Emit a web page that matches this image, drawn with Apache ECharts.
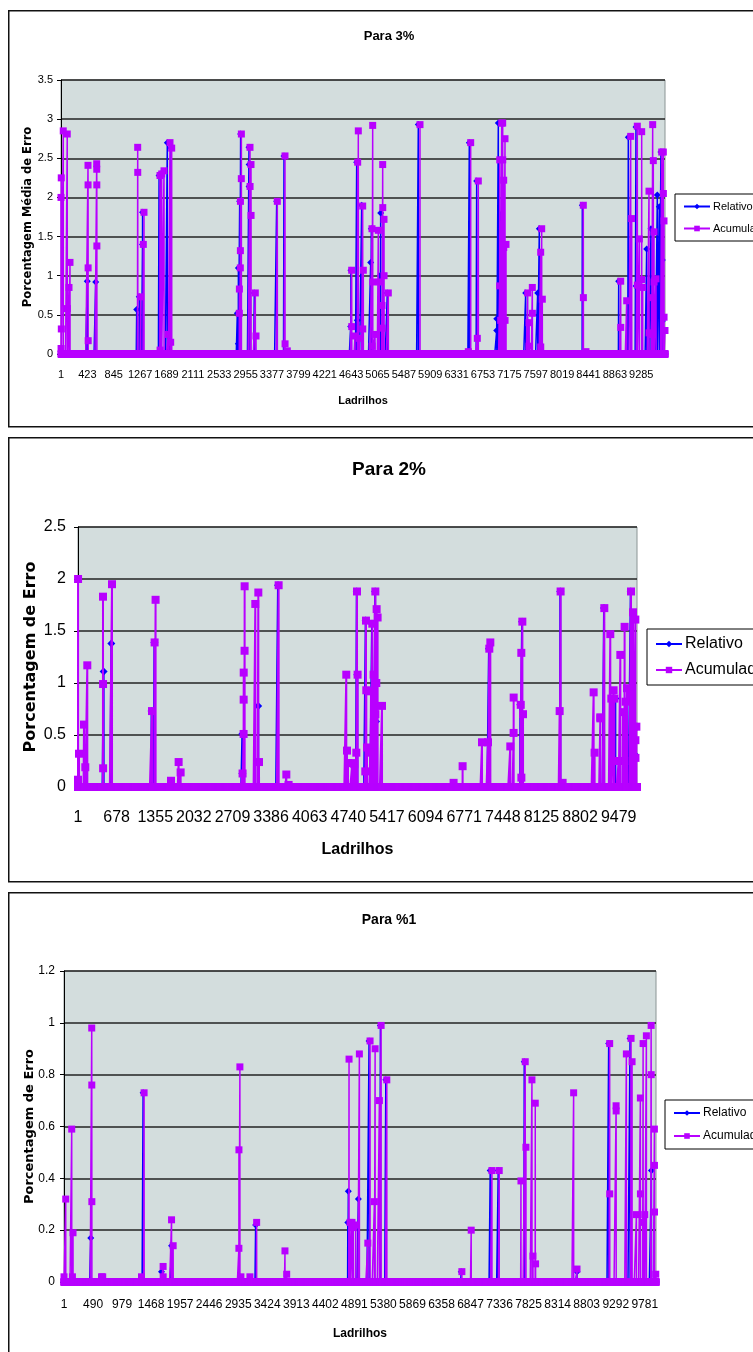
<!DOCTYPE html>
<html>
<head>
<meta charset="utf-8">
<script src="https://cdn.jsdelivr.net/npm/echarts@6/dist/echarts.min.js"></script>
<style>
html,body{margin:0;padding:0;overflow:hidden;background:#fff;}
#c{width:753px;height:1352px;}
</style>
</head>
<body>
<div id="c"></div>
<script>
// ---------- data ----------
const titles = ['Para 3%', 'Para 2%', 'Para %1'];
const yTitles = ['Porcentagem Média de Erro', 'Porcentagem de Erro', 'Porcentagem de Erro'];
const xTitle = 'Ladrilhos';
const seriesNames = ['Relativo', 'Acumulado'];

// number of tiles (categories) on each chart
const tileCount3 = 9665;
const tileCount2 = 9800;
const tileCount1 = 9970;

// x tick labels
const xTicks3 = [1,423,845,1267,1689,2111,2533,2955,3377,3799,4221,4643,5065,5487,5909,6331,6753,7175,7597,8019,8441,8863,9285];
const xTicks2 = [1,678,1355,2032,2709,3386,4063,4740,5417,6094,6771,7448,8125,8802,9479];
const xTicks1 = [1,490,979,1468,1957,2446,2935,3424,3913,4402,4891,5380,5869,6358,6847,7336,7825,8314,8803,9292,9781];

// y axis ranges
const yMax = [3.5, 2.5, 1.2];
const yStep = [0.5, 0.5, 0.2];

// non-zero values: [tile, value]; every other tile is 0
const acum3 = [[1,2.0],[2,0.07],[5,2.25],[6,0.32],[37,2.85],[101,2.81],[102,0.58],[129,0.85],[145,1.17],
[433,2.41],[434,2.16],[435,1.10],[436,0.17],
[572,2.43],[573,2.36],[574,2.16],[575,1.38],
[1228,2.64],[1229,2.32],[1276,0.73],[1318,1.40],[1329,1.81],
[1585,2.28],[1586,0.05],[1612,2.30],[1649,2.34],
[1718,0.25],[1745,2.70],[1756,0.15],[1772,2.63],
[2854,0.52],[2855,0.83],[2870,1.10],[2871,1.32],[2872,1.95],[2886,2.24],[2887,2.81],
[3025,2.64],[3026,2.14],[3041,2.42],[3042,1.77],[3110,0.78],[3121,0.23],
[3462,1.95],[3585,2.53],[3586,0.13],[3622,0.04],
[4652,1.07],[4653,0.35],[4705,0.23],[4748,2.45],[4758,2.85],[4774,0.20],
[4828,1.89],[4829,0.32],[4838,1.07],
[4977,1.60],[4978,0.10],[4988,2.92],[4989,0.92],[5025,0.25],[5078,1.58],[5094,0.92],
[5137,0.62],[5138,0.33],[5148,2.42],[5149,1.87],[5169,1.72],[5170,1.00],[5238,0.78],
[5745,2.93],
[6518,0.03],[6556,2.70],[6662,0.20],[6678,2.21],
[7020,0.87],[7021,2.48],[7036,0.43],[7052,2.95],[7068,2.95],[7069,2.48],[7084,2.22],[7085,1.36],[7105,2.75],[7106,0.43],[7121,1.40],
[7468,0.78],[7489,0.40],[7490,0.10],[7542,0.85],[7543,0.52],
[7676,1.30],[7677,0.09],[7692,1.60],[7702,0.70],
[8358,1.90],[8359,0.72],[8401,0.03],
[8956,0.93],[8957,0.34],[9052,0.68],[9116,2.78],[9132,1.73],
[9222,2.91],[9223,0.88],[9254,1.47],[9292,2.84],[9293,0.95],[9308,0.85],
[9409,2.08],[9410,0.27],[9452,0.72],[9453,0.25],[9468,2.93],[9478,2.47],[9489,1.56],[9490,0.92],[9521,0.96],
[9612,2.58],[9638,2.58],[9639,2.05],[9649,1.70],[9650,0.47],[9665,0.30]];
const rel3 = [[421,0.93],[556,0.92],[1212,0.57],[1253,0.73],[1305,1.40],[1306,1.81],[1570,2.28],[1598,2.30],[1702,2.70],[1760,2.63],
[2822,0.52],[2838,0.13],[2839,1.10],[2860,1.95],[2875,2.81],
[3009,2.64],[3010,2.14],[3011,2.42],[3094,0.78],[3452,1.95],[3569,2.53],
[4636,0.35],[4640,1.07],[4732,2.45],[4742,0.43],[4812,1.90],[4956,1.17],[4966,1.60],[5105,1.00],[5116,1.80],[5222,0.78],
[5718,2.93],[6534,2.70],[6652,2.21],
[6972,0.30],[6973,0.45],[6998,2.95],[7030,1.78],[7060,2.47],[7080,1.36],
[7436,0.78],[7485,0.40],[7628,0.78],[7654,1.60],[8342,1.90],[8924,0.93],[9078,2.77],
[9201,2.90],[9202,0.87],[9372,1.34],[9441,1.60],[9542,2.03],[9574,1.88],[9600,2.58],[9622,1.20],[9623,0.42]];

const acum2 = [[1,0.07],[2,2.00],[19,0.32],[106,0.60],[129,0.19],[164,1.17],
[439,1.83],[440,0.99],[441,0.18],[597,1.95],
[1298,0.73],[1344,1.39],[1361,1.80],
[1631,0.06],[1765,0.24],[1800,0.14],
[2886,0.13],[2904,0.51],[2905,0.84],[2906,1.10],[2921,1.31],[2922,1.93],
[3109,1.76],[3162,1.87],[3174,0.24],[3518,1.94],[3653,0.12],[3693,0.02],
[4704,1.08],[4716,0.35],[4734,0.23],[4809,0.23],[4845,0.22],[4880,0.33],[4892,1.88],[4902,1.08],
[5037,0.15],[5049,1.60],[5055,0.93],[5067,0.38],[5125,0.33],[5137,0.92],[5160,1.57],[5183,1.08],
[5213,1.88],[5214,0.70],[5230,1.00],[5236,1.71],[5253,1.63],[5330,0.78],
[6585,0.04],[6743,0.20],
[7083,0.43],[7188,0.43],[7211,1.33],[7229,1.39],
[7579,0.39],[7637,0.52],[7638,0.86],[7762,0.79],[7772,1.29],[7773,0.09],[7790,1.59],[7802,0.70],
[8444,0.73],[8461,1.88],[8496,0.04],
[9040,0.91],[9057,0.33],[9157,0.67],[9158,0.66],[9227,1.72],[9332,1.47],[9350,0.85],[9390,0.93],[9402,0.85],
[9478,0.25],[9508,1.27],[9555,0.72],[9577,0.25],[9583,1.54],[9600,0.82],[9625,0.95],
[9695,1.88],[9712,0.89],[9730,1.68],[9741,0.58],[9771,1.61],[9772,0.45],[9773,0.28],[9789,0.58]];
const rel2 = [[450,1.11],[585,1.38],[1290,0.73],[1340,1.39],[2881,0.51],[2882,0.13],[3160,0.78],[3507,1.94],
[4887,1.88],[4897,1.08],[5044,1.60],[5155,1.57],[5210,1.88],[5225,0.63],
[7205,1.33],[7755,0.79],[7785,1.59],[8455,1.88],[9222,1.72],[9420,0.85],[9690,1.88],[9765,0.31]];

const acum1 = [[1,0.02],[30,0.32],[131,0.59],[143,0.02],[153,0.19],
[468,0.98],[469,0.76],[470,0.31],[632,0.02],[653,0.02],
[1306,0.02],[1350,0.73],
[1670,0.06],[1671,0.02],[1812,0.24],[1839,0.14],
[2946,0.13],[2947,0.51],[2963,0.83],[2980,0.02],[3132,0.02],[3245,0.23],
[3722,0.12],[3751,0.03],
[4801,0.86],[4818,0.23],[4851,0.23],[4874,0.21],[4914,0.22],[4975,0.88],
[5117,0.15],[5155,0.93],[5228,0.31],[5240,0.90],[5312,0.70],[5341,0.99],[5437,0.78],
[6701,0.04],[6858,0.20],
[7207,0.43],[7330,0.43],
[7696,0.39],[7768,0.85],[7780,0.52],[7881,0.78],[7898,0.10],[7937,0.69],[7942,0.07],
[8583,0.73],[8640,0.05],
[9190,0.92],[9191,0.34],[9298,0.68],[9299,0.66],
[9471,0.88],[9550,0.94],[9567,0.85],
[9640,0.26],[9707,0.71],[9708,0.34],[9753,0.92],[9754,0.23],[9780,0.26],[9808,0.95],[9888,0.99],[9889,0.80],[9943,0.59],[9944,0.45],[9945,0.27],[9966,0.03]];
const rel1 = [[451,0.17],[1333,0.73],[1643,0.04],[1812,0.14],[3228,0.22],[4780,0.23],[4789,0.35],[4958,0.32],[5138,0.93],[5329,0.99],[5420,0.78],
[6690,0.04],[7178,0.43],[7313,0.43],[7751,0.85],[8640,0.04],[9173,0.92],[9533,0.94],[9893,0.43]];

// ---------- build ----------
function expand(n, pairs){
  const arr = new Array(n).fill(0);
  pairs.forEach(p => { arr[p[0]-1] = p[1]; });
  return arr;
}
function cats(n){ const a=[]; for(let i=1;i<=n;i++) a.push(String(i)); return a; }

const NARROW = '"Liberation Sans Narrow","Arial Narrow","Liberation Sans",Arial,sans-serif';
const BOLDY = '"DejaVu Sans",Verdana,sans-serif';
const BLUE = '#0000FF', MAG = '#B800FF';

const charts = [
  {n: tileCount3, ticks: xTicks3, rel: rel3, acu: acum3,
   grid:{left:61, top:80, width:604, height:274}, box:[8,10,800,416],
   fs:11, tfs:13, yfs:11.5, sym:7, lw:1.5, titleTop:25,
   legend:{left:675, top:194, fs:11, gap:11, pad:[7,6,7,8]}, xNameGap:41, yNameGap:27, labMargin:15, yLabMargin:8},
  {n: tileCount2, ticks: xTicks2, rel: rel2, acu: acum2,
   grid:{left:78, top:527, width:559, height:260}, box:[8,437,800,444],
   fs:16, tfs:19, yfs:16, sym:8, lw:2, titleTop:455,
   legend:{left:647, top:629, fs:16, gap:10, pad:[7,6,7,8]}, xNameGap:55, yNameGap:39, labMargin:23, yLabMargin:12},
  {n: tileCount1, ticks: xTicks1, rel: rel1, acu: acum1,
   grid:{left:64, top:971, width:592, height:311}, box:[8,892,800,470],
   fs:12, tfs:14, yfs:13, sym:7, lw:1.5, titleTop:908,
   legend:{left:665, top:1100, fs:12, gap:11, pad:[7,6,7,8]}, xNameGap:46, yNameGap:28, labMargin:17, yLabMargin:9}
];

const option = {
  animation:false,
  textStyle:{fontFamily:NARROW},
  title:[], legend:[], grid:[], xAxis:[], yAxis:[], series:[], graphic:[]
};

charts.forEach((c,k)=>{
  const tickSet = new Set(c.ticks.map(String));
  option.graphic.push({type:'rect', left:c.box[0], top:c.box[1], z:-10,
    shape:{width:c.box[2], height:c.box[3]}, style:{fill:'#fff', stroke:'#111', lineWidth:1.5}});
  option.title.push({text:titles[k], left:384, textAlign:'center', top:c.titleTop,
    textStyle:{fontFamily:NARROW, fontWeight:'bold', fontSize:c.tfs, color:'#000'}});
  option.legend.push({orient:'vertical', left:c.legend.left, top:c.legend.top,
    data:seriesNames, backgroundColor:'#fff', borderColor:'#000', borderWidth:1,
    padding:c.legend.pad, itemGap:c.legend.gap, itemWidth:26, itemHeight:c.sym,
    textStyle:{fontFamily:NARROW, fontSize:c.legend.fs, color:'#000', padding:[0,0,0,-2]}, selectedMode:false});
  option.grid.push(Object.assign({show:true, backgroundColor:'#D3DDDD', borderColor:'#8a9494', borderWidth:1}, c.grid));
  option.xAxis.push({type:'category', gridIndex:k, data:cats(c.n), boundaryGap:false,
    name:xTitle, nameLocation:'middle', nameGap:c.xNameGap, nameMoveOverlap:false,
    nameTextStyle:{fontFamily:NARROW, fontWeight:'bold', fontSize:c.fs, color:'#000'},
    axisLine:{show:true, lineStyle:{color:'#000', width:2}},
    axisTick:{show:false},
    axisLabel:{interval:(i,v)=>tickSet.has(v), fontSize:c.fs, color:'#000', margin:c.labMargin, fontFamily:NARROW},
    splitLine:{show:false}});
  option.yAxis.push({type:'value', gridIndex:k, min:0, max:yMax[k], interval:yStep[k],
    name:yTitles[k], nameLocation:'middle', nameGap:c.yNameGap, nameMoveOverlap:false,
    nameTextStyle:{fontFamily:BOLDY, fontWeight:'bold', fontSize:c.yfs, color:'#000'},
    axisLine:{show:true, lineStyle:{color:'#000', width:1}},
    axisTick:{show:true, length:4, lineStyle:{color:'#000'}},
    axisLabel:{fontSize:c.fs, color:'#000', margin:c.yLabMargin, fontFamily:NARROW},
    splitLine:{show:true, lineStyle:{color:'#222', width:1.5}}});
  option.series.push({name:seriesNames[0], type:'line', xAxisIndex:k, yAxisIndex:k,
    data:expand(c.n, c.rel), symbol:'diamond', symbolSize:c.sym, showAllSymbol:true,
    itemStyle:{color:BLUE}, lineStyle:{color:BLUE, width:c.lw}, silent:true, z:2});
  option.series.push({name:seriesNames[1], type:'line', xAxisIndex:k, yAxisIndex:k,
    data:expand(c.n, c.acu), symbol:'rect', symbolSize:c.sym, showAllSymbol:true,
    itemStyle:{color:MAG}, lineStyle:{color:MAG, width:c.lw}, silent:true, z:3});
});

const chart = echarts.init(document.getElementById('c'), null, {renderer:'canvas'});
chart.setOption(option);
</script>
</body>
</html>
